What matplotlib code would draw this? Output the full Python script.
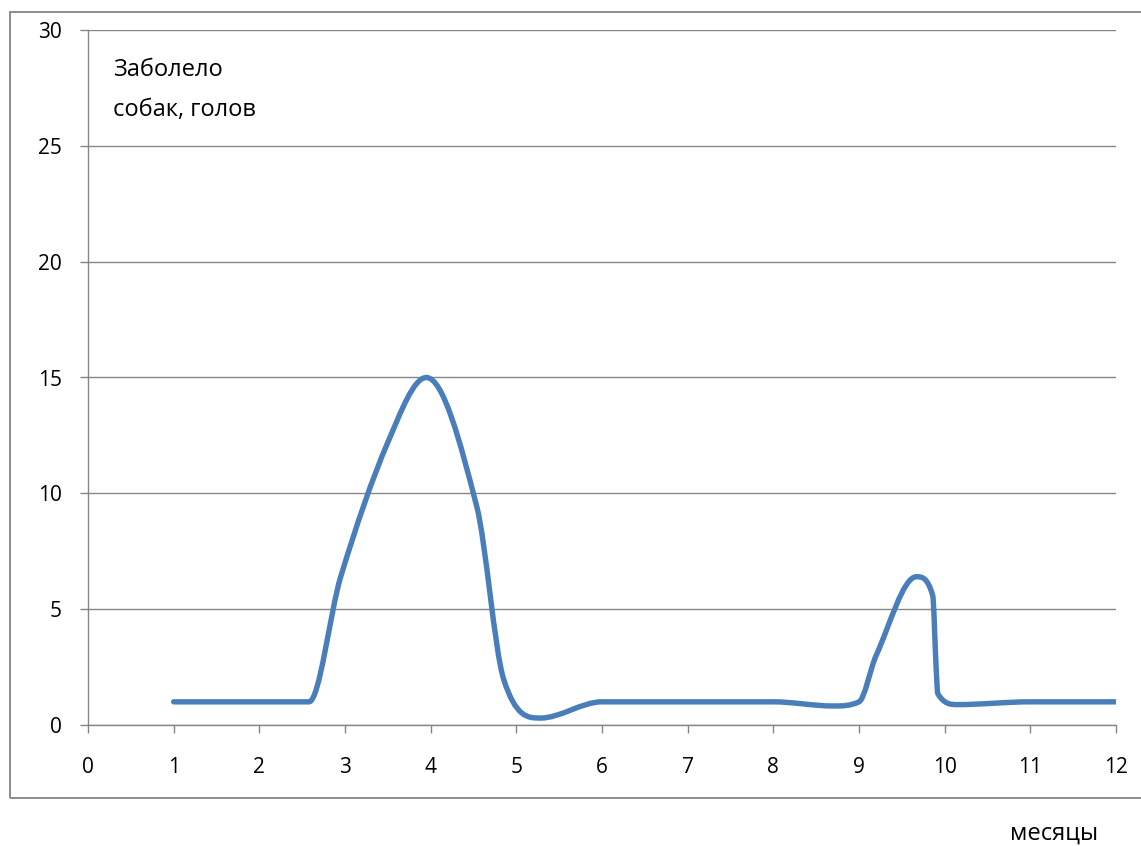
import matplotlib

matplotlib.use("Agg")
import matplotlib.pyplot as plt
import numpy as np
from matplotlib.patches import PathPatch, Rectangle
from matplotlib.path import Path

# months (fractional points mark the outbreak shape) and number of sick dogs
months = [1, 2, 2.58, 2.95, 3.5, 3.95, 4.54, 4.85, 5.28, 6, 7, 8, 8.7, 9.0,
          9.2, 9.67, 9.86, 9.9, 9.92, 10.15, 11, 12]
sick = [1, 1, 1, 6.4, 12.2, 15, 9.4, 2.0, 0.3, 1, 1, 1, 0.82, 1.0,
        3, 6.4, 5.6, 2.5, 1.35, 0.88, 1, 1]

x_ticks = list(range(0, 13))
y_ticks = [0, 5, 10, 15, 20, 25, 30]

LINE_COLOR = "#4a7ebb"
GRID_COLOR = "#868686"

plt.rcParams["font.family"] = ["Open Sans", "DejaVu Sans"]


def smooth_path(xs, ys):
    """Smoothed line: cubic bezier with central-difference tangents,
    clipped so the curve does not overshoot between points."""
    x = np.asarray(xs, float)
    y = np.asarray(ys, float)
    h = np.diff(x)
    delta = np.diff(y) / h
    d = np.zeros_like(x)
    d[0], d[-1] = delta[0], delta[-1]
    for k in range(1, len(x) - 1):
        if delta[k - 1] * delta[k] <= 0:
            continue
        c = (y[k + 1] - y[k - 1]) / (x[k + 1] - x[k - 1])
        lim = 3 * min(abs(delta[k - 1]), abs(delta[k]))
        d[k] = np.sign(c) * min(abs(c), lim)
    verts = [(x[0], y[0])]
    codes = [Path.MOVETO]
    for k in range(len(x) - 1):
        s = h[k] / 3.0
        verts += [(x[k] + s, y[k] + d[k] * s),
                  (x[k + 1] - s, y[k + 1] - d[k + 1] * s),
                  (x[k + 1], y[k + 1])]
        codes += [Path.CURVE4] * 3
    return Path(verts, codes)


fig = plt.figure(figsize=(11.41, 8.46), dpi=100)
ax = fig.add_axes([88 / 1141, 121 / 846, 1028 / 1141, 695 / 846])

# outer chart frame
fig.patches.append(Rectangle((10 / 1141, 48 / 846), 1.2, 786 / 846,
                             transform=fig.transFigure, fill=False,
                             edgecolor="#8c8c8c", linewidth=1.4))

ax.add_patch(PathPatch(smooth_path(months, sick), facecolor="none",
                       edgecolor=LINE_COLOR, linewidth=3.9,
                       capstyle="round", joinstyle="round", zorder=3))

ax.set_xlim(0, 12)
ax.set_ylim(0, 30)
ax.set_xticks(x_ticks)
ax.set_yticks(y_ticks)
ax.grid(axis="y", color=GRID_COLOR, linewidth=1.0)
ax.set_axisbelow(True)

for side in ("top", "right"):
    ax.spines[side].set_visible(False)
for side in ("left", "bottom"):
    ax.spines[side].set_color(GRID_COLOR)
    ax.spines[side].set_linewidth(1.0)

ax.tick_params(axis="x", direction="out", length=6, width=1, color=GRID_COLOR,
               pad=17, labelsize=15)
ax.tick_params(axis="y", direction="out", length=6, width=1, color=GRID_COLOR,
               pad=13, labelsize=15)

fig.text(113 / 1141, 1 - 70 / 846, "Заболело", fontsize=17, va="center")
fig.text(113 / 1141, 1 - 110 / 846, "собак, голов", fontsize=17, va="center")
fig.text(1098 / 1141, 1 - 834 / 846, "месяцы", fontsize=17, va="center", ha="right")

fig.savefig("out.png", dpi=100)
